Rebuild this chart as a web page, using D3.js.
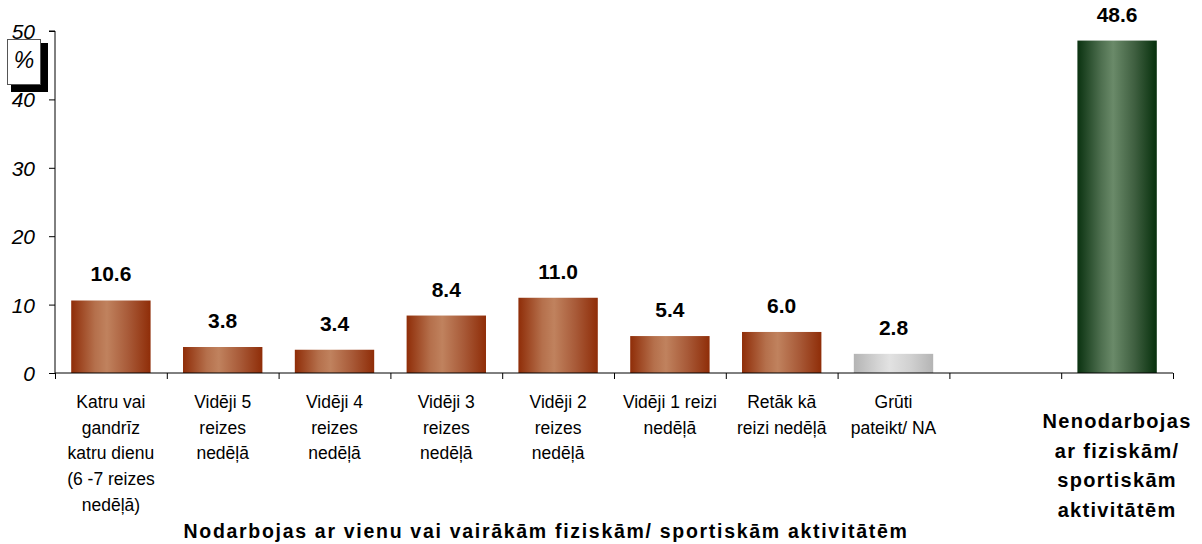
<!DOCTYPE html>
<html><head><meta charset="utf-8">
<script src="https://cdn.jsdelivr.net/npm/d3@7"></script>
<style>
body{margin:0;background:#fff;}
svg{display:block;font-family:"Liberation Sans",Arial,sans-serif;}
</style></head>
<body><svg id="c" width="1202" height="544"></svg>
<script>
const categories = [
  ["Katru vai","gandrīz","katru dienu","(6 -7 reizes","nedēļā)"],
  ["Vidēji 5","reizes","nedēļā"],
  ["Vidēji 4","reizes","nedēļā"],
  ["Vidēji 3","reizes","nedēļā"],
  ["Vidēji 2","reizes","nedēļā"],
  ["Vidēji 1 reizi","nedēļā"],
  ["Retāk kā","reizi nedēļā"],
  ["Grūti","pateikt/ NA"],
  [],
  ["Nenodarbojas","ar fiziskām/","sportiskām","aktivitātēm"]
];
const values = [10.6, 3.8, 3.4, 8.4, 11.0, 5.4, 6.0, 2.8, null, 48.6];
const barKinds = ["brown","brown","brown","brown","brown","brown","brown","gray",null,"green"];
const yTicks = [0, 10, 20, 30, 40, 50];
const axisTitle = "Nodarbojas ar vienu vai vairākām fiziskām/ sportiskām aktivitātēm";
const unitLabel = "%";

const svg = d3.select("#c");
const x0 = 55, x1 = 1173, yTop = 31, yBase = 373;
const y = d3.scaleLinear().domain([0, 50]).range([yBase, yTop]);
const xIdx = d3.scaleLinear().domain([0, values.length]).range([x0, x1]);
const band = d3.scaleBand().domain(d3.range(values.length)).range([x0, x1]).paddingInner(0.29).paddingOuter(0.145);

// gradients
const defs = svg.append("defs");
const grads = {
  brown: ["#8f2d08", "#b5704c", "#c0825e", "#a85a38", "#8f2d08"],
  gray: ["#b4b4b4", "#d4d4d4", "#e2e2e2", "#d0d0d0", "#b4b4b4"],
  green: ["#0a3210", "#4f7050", "#6a8a69", "#3f5f40", "#06300c"]
};
Object.entries(grads).forEach(([k, cols]) => {
  const g = defs.append("linearGradient").attr("id", "g-" + k).attr("x1", "0").attr("x2", "1").attr("y1", "0").attr("y2", "0");
  const offs = [0, 0.3, 0.45, 0.72, 1];
  cols.forEach((c, i) => g.append("stop").attr("offset", offs[i]).attr("stop-color", c));
});

// bars
const data = values.map((v, i) => ({v, i, kind: barKinds[i]})).filter(d => d.v != null);
svg.selectAll("rect.bar").data(data).enter().append("rect")
  .attr("class", "bar")
  .attr("x", d => band(d.i))
  .attr("width", band.bandwidth())
  .attr("y", d => y(d.v))
  .attr("height", d => y(0) - y(d.v))
  .attr("fill", d => "url(#g-" + d.kind + ")");

// value labels
svg.selectAll("text.val").data(data).enter().append("text")
  .attr("class", "val")
  .attr("x", d => band(d.i) + band.bandwidth() / 2)
  .attr("y", d => y(d.v) - 19)
  .attr("text-anchor", "middle")
  .attr("font-size", "21px").attr("font-weight", "bold").attr("fill", "#000")
  .text(d => d.v.toFixed(1));

// y axis
const ya = svg.append("g").attr("transform", `translate(${x0},0)`)
  .call(d3.axisLeft(y).tickValues(yTicks).tickSize(6).tickPadding(14).tickFormat(d3.format("d")));
ya.select(".domain").attr("stroke", "#000").attr("d", `M-6,${yTop}H0V${yBase}`);
ya.selectAll(".tick line").attr("stroke", "#000");
ya.selectAll(".tick text").attr("font-size", "21px").attr("font-style", "italic")
  .attr("font-family", "Liberation Sans, Arial, sans-serif").attr("fill", "#000").attr("dy", "0.36em");

// x axis
const xa = svg.append("g").attr("transform", `translate(0,${yBase})`)
  .call(d3.axisBottom(xIdx).tickValues(d3.range(values.length + 1)).tickSize(6).tickFormat(""));
xa.select(".domain").attr("stroke", "#000").attr("d", `M${x0},0H${x1}`);
xa.selectAll(".tick line").attr("stroke", "#000");

// category labels
categories.forEach((lines, i) => {
  const cx = band(i) + band.bandwidth() / 2;
  const last = i === categories.length - 1;
  const t = svg.append("text").attr("text-anchor", "middle").attr("fill", "#000")
    .attr("font-size", last ? "20px" : "17.5px")
    .attr("font-weight", last ? "bold" : "normal")
    .attr("letter-spacing", last ? "1.3px" : "0px");
  lines.forEach((ln, j) => {
    t.append("tspan").attr("x", cx)
      .attr("y", (last ? 428 : 408) + j * (last ? 29.6 : 25.7))
      .text(ln);
  });
});

// axis title
svg.append("text").attr("x", 546).attr("y", 538).attr("text-anchor", "middle")
  .attr("font-size", "19.5px").attr("font-weight", "bold").attr("letter-spacing", "1.7px")
  .attr("fill", "#000").text(axisTitle);

// unit box
svg.append("rect").attr("x", 11).attr("y", 43).attr("width", 37).attr("height", 49).attr("fill", "#000");
svg.append("rect").attr("x", 7.5).attr("y", 39.5).attr("width", 33).attr("height", 45)
  .attr("fill", "#fff").attr("stroke", "#555").attr("stroke-width", 1);
svg.append("text").attr("x", 24).attr("y", 68).attr("text-anchor", "middle")
  .attr("font-size", "23px").attr("font-style", "italic").attr("fill", "#000").text(unitLabel);
</script></body></html>
